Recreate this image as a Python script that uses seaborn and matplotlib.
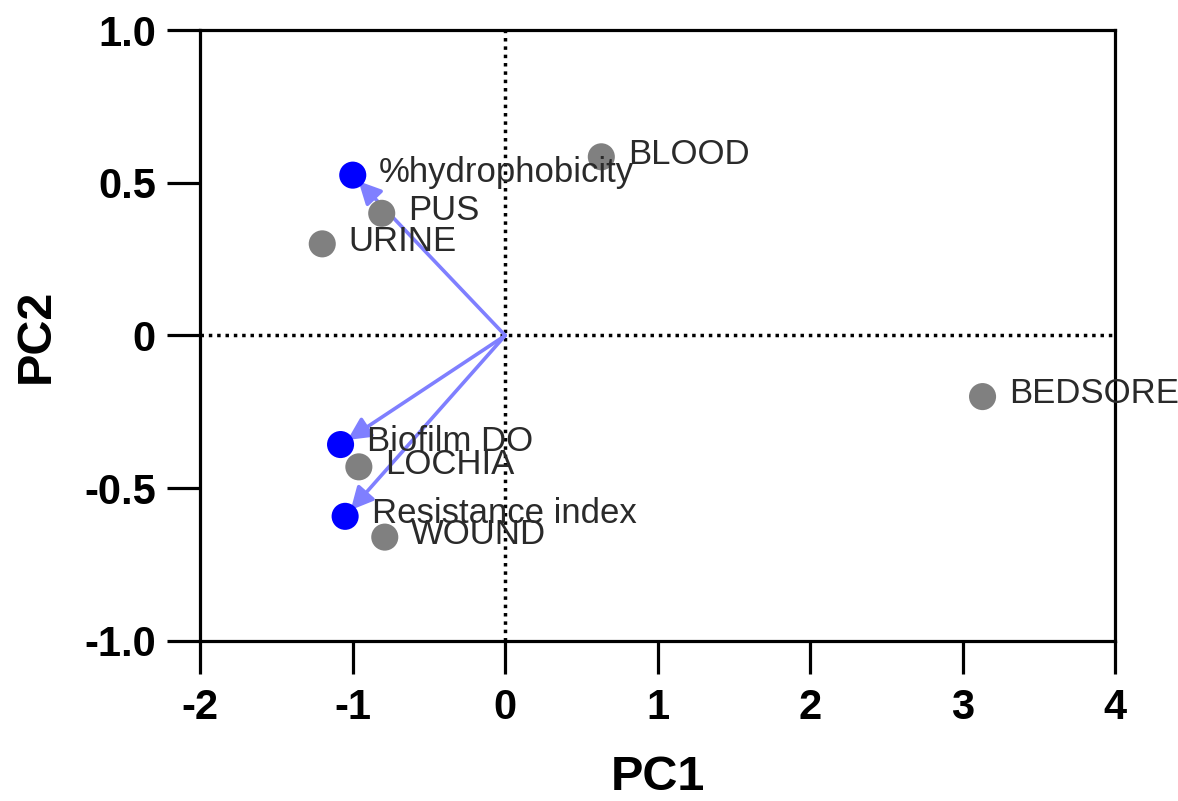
import matplotlib
matplotlib.use("Agg")
import matplotlib.pyplot as plt
import seaborn as sns
import pandas as pd

# PCA scores (samples) and loadings (variables)
samples = ["BLOOD", "PUS", "URINE", "BEDSORE", "LOCHIA", "WOUND"]
score_pc1 = [0.63, -0.81, -1.20, 3.13, -0.96, -0.79]
score_pc2 = [0.585, 0.40, 0.30, -0.20, -0.43, -0.66]

variables = ["%hydrophobicity", "Biofilm DO", "Resistance index"]
load_pc1 = [-1.00, -1.08, -1.05]
load_pc2 = [0.525, -0.357, -0.592]

x_ticks = [-2, -1, 0, 1, 2, 3, 4]
y_ticks = [-1.0, -0.5, 0, 0.5, 1.0]
y_tick_labels = ["-1.0", "-0.5", "0", "0.5", "1.0"]

scores = pd.DataFrame({"PC1": score_pc1, "PC2": score_pc2, "label": samples})
loadings = pd.DataFrame({"PC1": load_pc1, "PC2": load_pc2, "label": variables})

sns.set_style("white")
plt.rcParams['font.family'] = ['Liberation Sans', 'DejaVu Sans']
plt.rcParams.update({
    "xtick.bottom": True, "ytick.left": True,
    "xtick.major.size": 24, "ytick.major.size": 24,
    "xtick.major.width": 2.3, "ytick.major.width": 2.3,
    "xtick.color": "black", "ytick.color": "black",
    "xtick.labelcolor": "black", "ytick.labelcolor": "black",
    "axes.labelcolor": "black", "axes.edgecolor": "black",
    "axes.linewidth": 2.3,
})

fig = plt.figure(figsize=(11.78, 8.01), dpi=100)
ax = fig.add_axes([0.170, 0.1998, 0.7767, 0.7627])

# reference lines through the origin
ax.axhline(0, color="black", linestyle=(0, (1, 1.4)), lw=2.5, zorder=1)
ax.axvline(0, color="black", linestyle=(0, (1, 1.4)), lw=2.5, zorder=1)

# loading arrows
for _, row in loadings.iterrows():
    ax.annotate("", xy=(row["PC1"], row["PC2"]), xytext=(0, 0),
                arrowprops=dict(arrowstyle="-|>", color="#7f7fff", lw=2.6,
                                mutation_scale=34, shrinkA=0, shrinkB=6),
                zorder=2)

sns.scatterplot(data=scores, x="PC1", y="PC2", color="#808080", s=380,
                edgecolor="none", ax=ax, zorder=3)
sns.scatterplot(data=loadings, x="PC1", y="PC2", color="#0000ff", s=380,
                edgecolor="none", ax=ax, zorder=3)

for _, row in pd.concat([scores, loadings]).iterrows():
    ax.annotate(row["label"], xy=(row["PC1"], row["PC2"]), xytext=(19, 2),
                textcoords="offset points", va="center", ha="left",
                fontsize=25, color="#2a2a2a", zorder=4)

ax.set_xlim(-2, 4)
ax.set_ylim(-1.0, 1.0)
ax.set_xticks(x_ticks)
ax.set_xticklabels([str(t) for t in x_ticks])
ax.set_yticks(y_ticks)
ax.set_yticklabels(y_tick_labels)

for sp in ax.spines.values():
    sp.set_visible(True)
ax.tick_params(axis="x", direction="out", pad=10, labelsize=30)
ax.tick_params(axis="y", direction="out", pad=8, labelsize=30)
for lab in ax.get_xticklabels() + ax.get_yticklabels():
    lab.set_fontweight("bold")

ax.set_xlabel("PC1", fontsize=35, fontweight="bold", labelpad=19)
ax.set_ylabel("PC2", fontsize=35, fontweight="bold", labelpad=18)

fig.savefig("out.png", dpi=100)
